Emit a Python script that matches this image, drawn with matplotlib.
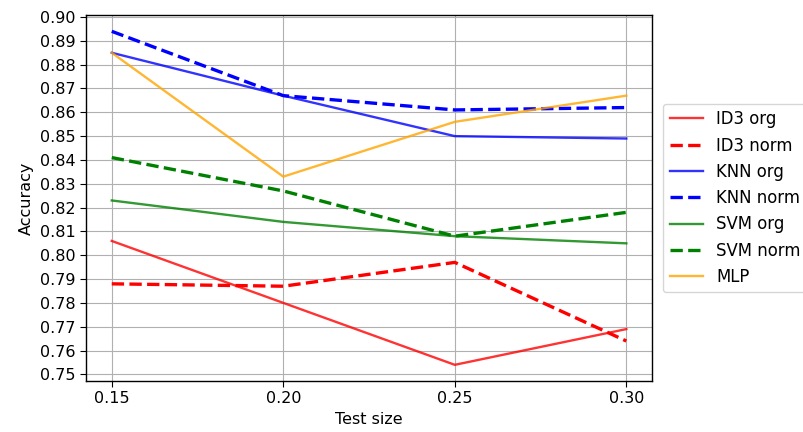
import matplotlib
matplotlib.use("Agg")
import matplotlib.pyplot as plt
import numpy as np

# test sizes and accuracies
test_size = [0.15, 0.20, 0.25, 0.30]
id3_org = [0.806, 0.780, 0.754, 0.769]
id3_norm = [0.788, 0.787, 0.797, 0.764]
knn_org = [0.885, 0.867, 0.850, 0.849]
knn_norm = [0.894, 0.867, 0.861, 0.862]
svm_org = [0.823, 0.814, 0.808, 0.805]
svm_norm = [0.841, 0.827, 0.808, 0.818]
mlp = [0.885, 0.833, 0.856, 0.867]

plt.rcParams['font.size'] = 11.5
plt.rcParams['axes.linewidth'] = 1.0
plt.rcParams['xtick.major.size'] = 4
plt.rcParams['ytick.major.size'] = 4

fig = plt.figure(figsize=(8.04, 4.32), dpi=100)
ax = fig.add_axes([0.107, 0.118, 0.704, 0.847])

solid = 1.7
dashed = 2.4
ax.plot(test_size, id3_org, color='red', alpha=0.8, linewidth=solid, label='ID3 org')
ax.plot(test_size, id3_norm, color='red', linestyle='--', linewidth=dashed, label='ID3 norm')
ax.plot(test_size, knn_org, color='blue', alpha=0.8, linewidth=solid, label='KNN org')
ax.plot(test_size, knn_norm, color='blue', linestyle='--', linewidth=dashed, label='KNN norm')
ax.plot(test_size, svm_org, color='green', alpha=0.8, linewidth=solid, label='SVM org')
ax.plot(test_size, svm_norm, color='green', linestyle='--', linewidth=dashed, label='SVM norm')
ax.plot(test_size, mlp, color='orange', alpha=0.8, linewidth=solid, label='MLP')

ax.set_xticks(test_size)
ax.set_yticks(np.round(np.arange(0.75, 0.9001, 0.01), 2))
ax.set_ylim(0.7472, 0.9008)
ax.set_xlabel('Test size')
ax.set_ylabel('Accuracy')
ax.grid(True)
ax.legend(loc='center left', bbox_to_anchor=(1.005, 0.5), fontsize=11.9)

plt.savefig('out.png', dpi=100)
